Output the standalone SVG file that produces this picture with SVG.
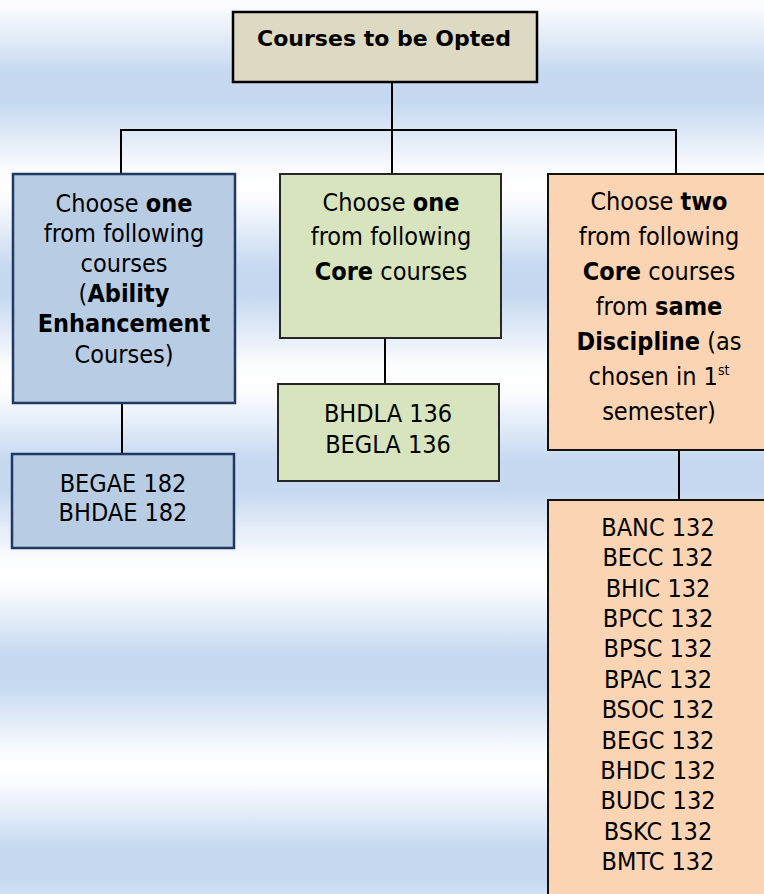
<svg xmlns="http://www.w3.org/2000/svg" width="764" height="894" viewBox="0 0 764 894">
<defs>
<linearGradient id="bg" gradientUnits="userSpaceOnUse" x1="0" y1="-9" x2="0" y2="88" spreadMethod="reflect">
<stop offset="0" stop-color="#ffffff"/>
<stop offset="0.15" stop-color="#fbfcfe"/>
<stop offset="0.85" stop-color="#c6d9f1"/>
<stop offset="1" stop-color="#c6d9f1"/>
</linearGradient>
</defs>
<style>
.t{font-family:"DejaVu Sans Condensed","DejaVu Sans",sans-serif;font-stretch:condensed;font-size:25px;fill:#000;text-anchor:middle}
.b{font-weight:bold}
.title{font-family:"DejaVu Sans",sans-serif;font-weight:bold;font-size:22px;fill:#000;text-anchor:middle}
.c{stroke:#000;stroke-width:2;fill:none}
.blue{fill:#b8cce4;stroke:#1f3864;stroke-width:2.5}
.green{fill:#d7e4bd;stroke:#262626;stroke-width:2}
.peach{fill:#fbd4b4;stroke:#111;stroke-width:2}
.tan{fill:#ddd9c3;stroke:#000;stroke-width:2.5}
</style>
<rect x="0" y="0" width="764" height="894" fill="url(#bg)"/>
<g id="connectors">
<line class="c" x1="392" y1="83" x2="392" y2="130"/>
<line class="c" x1="120" y1="130" x2="677" y2="130"/>
<line class="c" x1="121" y1="130" x2="121" y2="174"/>
<line class="c" x1="392" y1="130" x2="392" y2="175"/>
<line class="c" x1="676" y1="130" x2="676" y2="174"/>
<line class="c" x1="122" y1="403" x2="122" y2="454"/>
<line class="c" x1="385" y1="338" x2="385" y2="385"/>
<line class="c" x1="679" y1="450" x2="679" y2="500"/>
</g>
<g id="root">
<rect class="tan" x="233" y="12" width="304" height="70"/>
<text class="title" x="384" y="46">Courses to be Opted</text>
</g>
<g id="ability">
<rect class="blue" x="13" y="174" width="222" height="229"/>
<text class="t" x="124" y="212">Choose <tspan class="b">one</tspan></text>
<text class="t" x="124" y="242">from following</text>
<text class="t" x="124" y="272">courses</text>
<text class="t" x="124" y="302">(<tspan class="b">Ability</tspan></text>
<text class="t" x="124" y="332" font-weight="bold">Enhancement</text>
<text class="t" x="124" y="363">Courses)</text>
</g>
<g id="ability-list">
<rect class="blue" x="12" y="454" width="222" height="94"/>
<text class="t" x="123" y="492">BEGAE 182</text>
<text class="t" x="123" y="521">BHDAE 182</text>
</g>
<g id="core">
<rect class="green" x="280" y="174" width="221" height="164"/>
<text class="t" x="391" y="211">Choose <tspan class="b">one</tspan></text>
<text class="t" x="391" y="245">from following</text>
<text class="t" x="391" y="280"><tspan class="b">Core</tspan> courses</text>
</g>
<g id="core-list">
<rect class="green" x="278" y="384" width="221" height="97"/>
<text class="t" x="388" y="422">BHDLA 136</text>
<text class="t" x="388" y="453">BEGLA 136</text>
</g>
<g id="discipline">
<rect class="peach" x="548" y="174" width="224" height="276"/>
<text class="t" x="659" y="210">Choose <tspan class="b">two</tspan></text>
<text class="t" x="659" y="245">from following</text>
<text class="t" x="659" y="280"><tspan class="b">Core</tspan> courses</text>
<text class="t" x="659" y="315">from <tspan class="b">same</tspan></text>
<text class="t" x="659" y="350"><tspan class="b">Discipline</tspan> (as</text>
<text class="t" x="659" y="385">chosen in 1<tspan font-size="14" dy="-10">st</tspan></text>
<text class="t" x="659" y="420">semester)</text>
</g>
<g id="discipline-list">
<rect class="peach" x="548" y="500" width="224" height="400"/>
<text class="t" x="658" y="536">BANC 132</text>
<text class="t" x="658" y="566">BECC 132</text>
<text class="t" x="658" y="597">BHIC 132</text>
<text class="t" x="658" y="627">BPCC 132</text>
<text class="t" x="658" y="657">BPSC 132</text>
<text class="t" x="658" y="688">BPAC 132</text>
<text class="t" x="658" y="718">BSOC 132</text>
<text class="t" x="658" y="749">BEGC 132</text>
<text class="t" x="658" y="779">BHDC 132</text>
<text class="t" x="658" y="809">BUDC 132</text>
<text class="t" x="658" y="840">BSKC 132</text>
<text class="t" x="658" y="870">BMTC 132</text>
</g>
</svg>
